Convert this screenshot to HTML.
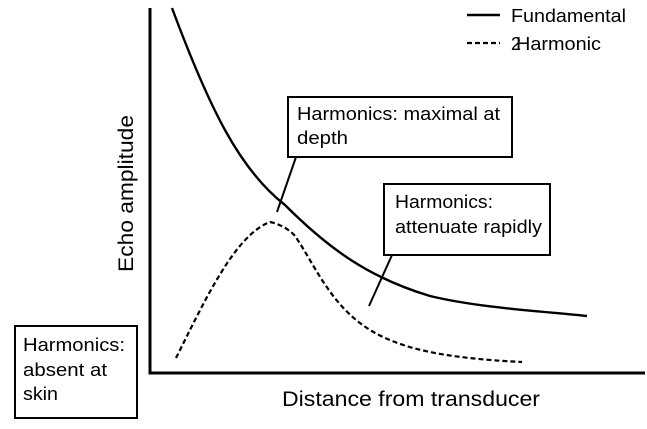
<!DOCTYPE html>
<html><head><style>body{margin:0;background:#fff}svg{display:block}text{font-family:"Liberation Sans",sans-serif;fill:#000}</style></head>
<body>
<svg width="647" height="429" viewBox="0 0 647 429">
<g stroke="#000" fill="none">
<polyline points="150,8 150,373 645,373" stroke-width="3"/>
<path d="M172,8 C210,110 240,170 285,205 C330,250 370,278 430,296 C480,308 540,311 587,316" stroke-width="2.4"/>
<path d="M176,358 C205,300 235,235 270,222 C280,224 290,230 295,236 C315,265 330,305 370,330 C400,348 440,358 522,362" stroke-width="2.2" stroke-dasharray="5,3"/>
<line x1="467" y1="15" x2="500" y2="15" stroke-width="2.4"/>
<line x1="467" y1="43" x2="500" y2="43" stroke-width="2.2" stroke-dasharray="5,3"/>
<line x1="296" y1="157" x2="277" y2="212" stroke-width="2"/>
<line x1="392" y1="255" x2="369" y2="306" stroke-width="2"/>
<rect x="288" y="97" width="224" height="60" stroke-width="2"/>
<rect x="384" y="184" width="166" height="71" stroke-width="2"/>
<rect x="15" y="326" width="122" height="92" stroke-width="2"/>
</g>
<g font-size="18">
<text x="511" y="22" textLength="115" lengthAdjust="spacingAndGlyphs">Fundamental</text>
<text x="511" y="50">2</text>
<text x="516" y="50" textLength="85" lengthAdjust="spacingAndGlyphs">Harmonic</text>
<text x="297" y="120" textLength="203" lengthAdjust="spacingAndGlyphs">Harmonics: maximal at</text>
<text x="297" y="144" textLength="51" lengthAdjust="spacingAndGlyphs">depth</text>
<text x="395" y="208" textLength="98" lengthAdjust="spacingAndGlyphs">Harmonics:</text>
<text x="395" y="233" textLength="147" lengthAdjust="spacingAndGlyphs">attenuate rapidly</text>
<text x="23" y="351" textLength="102" lengthAdjust="spacingAndGlyphs">Harmonics:</text>
<text x="23" y="376" textLength="84" lengthAdjust="spacingAndGlyphs">absent at</text>
<text x="23" y="400" textLength="35" lengthAdjust="spacingAndGlyphs">skin</text>
</g>
<text x="282" y="406" font-size="21" textLength="258" lengthAdjust="spacingAndGlyphs">Distance from transducer</text>
<text transform="translate(133,272) rotate(-90)" font-size="21" textLength="157" lengthAdjust="spacingAndGlyphs">Echo amplitude</text>
</svg>
</body></html>
